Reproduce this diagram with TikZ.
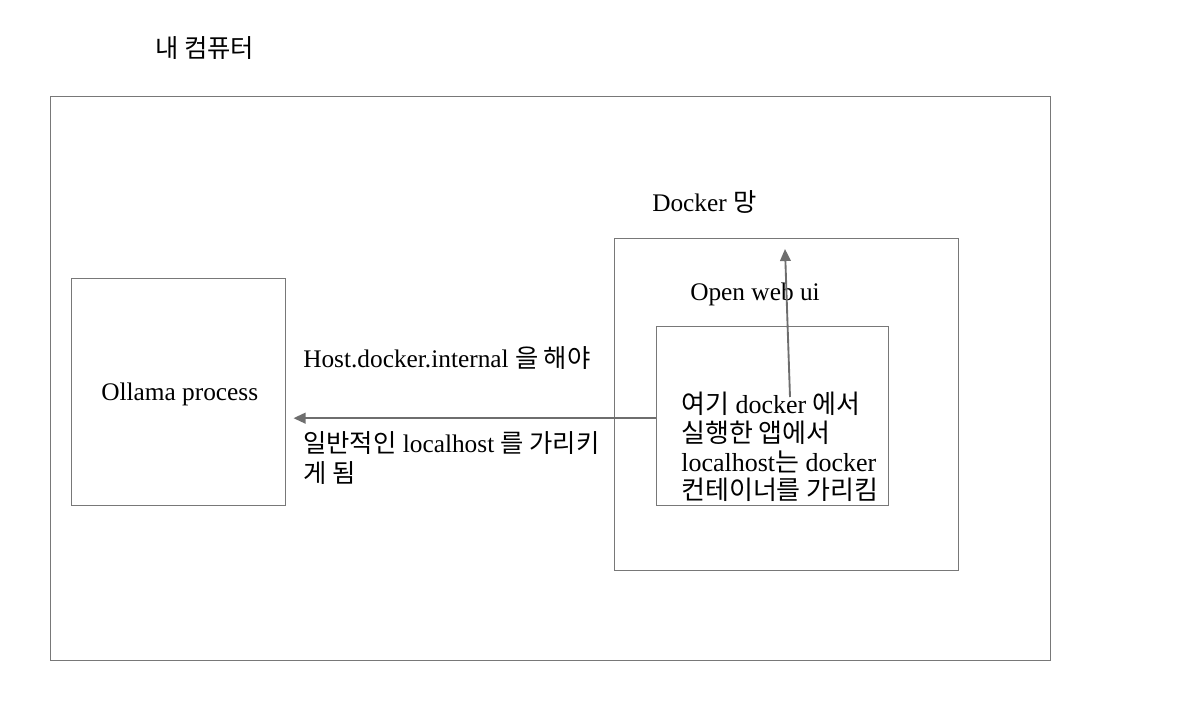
\documentclass[tikz,border=0pt]{standalone}
\usepackage{fontspec}
\setmainfont{Liberation Serif}
\newfontfamily\hkfont[Scale=1.0]{Noto Sans CJK KR}
\newcommand\hk[1]{{\hkfont #1}}
\usetikzlibrary{arrows.meta}
\definecolor{linegray}{RGB}{120,120,120}
\definecolor{arrgray}{RGB}{110,110,110}
\tikzset{
  box/.style={draw=linegray, line width=0.75pt, inner sep=0pt},
  lbl/.style={anchor=base west, inner sep=0pt, font=\fontsize{19}{24}\selectfont},
  inlbl/.style={anchor=base west, inner sep=0pt, font=\fontsize{19.5}{24}\selectfont},
  arr/.style={draw=arrgray, line width=1.4pt, -{Triangle[length=9pt,width=8pt]}},
}
\begin{document}
\begin{tikzpicture}[x=0.75pt,y=-0.75pt]
\useasboundingbox (0,0) rectangle (1185,713);
% boxes
\node[box, minimum width={1000*0.75pt}, minimum height={563*0.75pt}] (outer) at (550,378.5) {};
\node[box, minimum width={214*0.75pt}, minimum height={227*0.75pt}] (ollama) at (178,391.5) {};
\node[box, minimum width={344*0.75pt}, minimum height={332*0.75pt}] (docker) at (786,404) {};
\node[box, minimum width={232*0.75pt}, minimum height={179*0.75pt}] (owui) at (772,415.5) {};
% labels
\node[lbl] (tcomp) at (155,58) {\hk{내 컴퓨터}};
\node[lbl] (tdocker) at (652,212) {Docker \hk{망}};
\node[lbl] (towui) at (690,300) {Open web ui};
\node[lbl] (tollama) at (101,400) {Ollama process};
\node[lbl] (thost) at (303,367) {Host.docker.internal \hk{을 해야}};
\node[lbl] (tgen1) at (303,452) {\hk{일반적인} localhost \hk{를 가리키}};
\node[lbl] (tgen2) at (303,482) {\hk{게 됨}};
\node[inlbl] (tin1) at (681,413) {\hk{여기} docker \hk{에서}};
\node[inlbl] (tin2) at (681,442) {\hk{실행한 앱에서}};
\node[inlbl] (tin3) at (681,471) {localhost\hk{는} docker};
\node[inlbl] (tin4) at (681,499) {\hk{컨테이너를 가리킴}};
% connectors
\coordinate (vs) at (790,397);
\coordinate (ve) at (785,249);
\draw[arr] ([yshift=-2pt]owui.west) -- ([yshift=-2pt,xshift=6pt]owui.west -| ollama.east);
\draw[arr] (vs) -- (ve);
\end{tikzpicture}
\end{document}
